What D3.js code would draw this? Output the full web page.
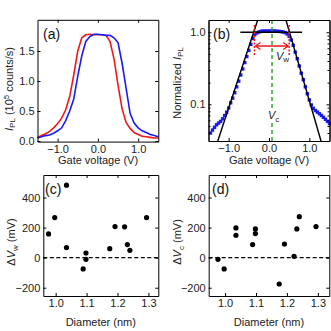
<!DOCTYPE html>
<html>
<head>
<meta charset="utf-8">
<script src="https://cdn.jsdelivr.net/npm/d3@7"></script>
<style>
  body { margin: 0; background: #fff; }
  svg { display: block; font-family: "Liberation Sans", Arial, sans-serif; }
  .tick text { font-size: 11px; fill: #222; }
  .axis path, .axis line { stroke: #000; stroke-width: 1; }
  .lbl { font-size: 11px; fill: #222; }
  .plab { font-size: 14px; fill: #111; }
</style>
</head>
<body>
<div id="chart"></div>
<script>
// (a) PL intensity vs gate voltage, two sweeps (10^5 counts/s)
var gateV  = [-1.5, -1.4, -1.3, -1.2, -1.1, -1.0, -0.9, -0.8, -0.7, -0.6, -0.5, -0.4, -0.3, -0.2, -0.1, 0.0,
              0.1, 0.2, 0.3, 0.4, 0.5, 0.6, 0.7, 0.8, 0.9, 1.0, 1.1, 1.2, 1.3, 1.4, 1.5];
var plRed  = [0.06, 0.09, 0.12, 0.16, 0.22, 0.29, 0.38, 0.52, 0.74, 1.10, 1.50, 1.72, 1.77, 1.78, 1.77, 1.77,
              1.77, 1.76, 1.66, 1.37, 0.93, 0.54, 0.31, 0.21, 0.14, 0.11, 0.08, 0.07, 0.06, 0.05, 0.05];
var plBlue = [0.05, 0.07, 0.09, 0.10, 0.13, 0.17, 0.22, 0.34, 0.50, 0.70, 1.08, 1.42, 1.66, 1.74, 1.78, 1.78,
              1.77, 1.76, 1.76, 1.72, 1.64, 1.30, 0.88, 0.46, 0.30, 0.22, 0.17, 0.14, 0.11, 0.09, 0.07];

// (b) normalized PL (log scale) with fitted slopes
var normV  = [-1.45, -1.40, -1.35, -1.30, -1.25, -1.20, -1.15, -1.10, -1.05, -1.00, -0.95, -0.90, -0.85, -0.80,
              -0.75, -0.70, -0.65, -0.60, -0.55, -0.50, -0.45, -0.40, -0.35, -0.30, -0.25, -0.20, -0.15, -0.10,
              -0.05, 0.00, 0.05, 0.10, 0.15, 0.20, 0.25, 0.30, 0.35, 0.40, 0.45, 0.50, 0.55, 0.60, 0.65, 0.70,
              0.75, 0.80, 0.85, 0.90, 0.95, 1.00, 1.05, 1.10, 1.15, 1.20, 1.25, 1.30, 1.35, 1.40, 1.45, 1.50];
var normPL = [0.040, 0.044, 0.048, 0.052, 0.055, 0.058, 0.063, 0.070, 0.078, 0.089, 0.105, 0.122, 0.145, 0.175,
              0.21, 0.255, 0.31, 0.38, 0.46, 0.56, 0.68, 0.82, 0.93, 0.98, 1.01, 1.03, 1.04, 1.04,
              1.04, 1.04, 1.04, 1.04, 1.04, 1.03, 1.03, 1.02, 1.01, 0.99, 0.95, 0.88, 0.78, 0.66, 0.53, 0.43,
              0.34, 0.27, 0.22, 0.175, 0.14, 0.115, 0.098, 0.088, 0.082, 0.078, 0.074, 0.070, 0.066, 0.062, 0.058, 0.054];
var fitLeftV = [-1.27, -0.28], fitLeftI = [0.031, 1.48];
var fitRightV = [0.42, 1.29], fitRightI = [1.48, 0.031];
var flatV = [-0.71, 0.82];
var vwEdges = [-0.36, 0.50];
var vwArrowI = 0.645;
var vwLineI = [1.26, 0.48];
var vc = 0.075;

// (c), (d) shifts vs tube diameter (mV)
var diameter = [0.977, 0.997, 1.035, 1.035, 1.089, 1.098, 1.098, 1.175, 1.192, 1.223, 1.232, 1.240, 1.294];
var deltaVw  = [158, 267, 482, 67, -75, 31, -11, 60, 207, 205, 87, 49, 267];
var deltaVc  = [-11, -75, 198, 149, 87, 191, 160, -175, 91, 9, 191, 273, 207];

var svg = d3.select("#chart").append("svg")
    .attr("width", 331)
    .attr("height", 331);

var fmt1 = d3.format(".1f");

// box with inward ticks on all four sides
function drawFrame(x, y, xTicks, yTicks, xFmt, yFmt) {
    var x0 = x.range()[0], x1 = x.range()[1];
    var yb = y.range()[0], yt = y.range()[1];
    svg.append("g").attr("class", "axis")
        .attr("transform", `translate(0,${yb})`)
        .call(d3.axisBottom(x).tickValues(xTicks).tickFormat(xFmt).tickSize(-3).tickSizeOuter(0).tickPadding(3.5));
    svg.append("g").attr("class", "axis")
        .attr("transform", `translate(0,${yt})`)
        .call(d3.axisTop(x).tickValues(xTicks).tickFormat("").tickSize(-3).tickSizeOuter(0));
    svg.append("g").attr("class", "axis")
        .attr("transform", `translate(${x0},0)`)
        .call(d3.axisLeft(y).tickValues(yTicks).tickFormat(yFmt).tickSize(-3).tickSizeOuter(0).tickPadding(3));
    svg.append("g").attr("class", "axis")
        .attr("transform", `translate(${x1},0)`)
        .call(d3.axisRight(y).tickValues(yTicks).tickFormat("").tickSize(-3).tickSizeOuter(0));
    svg.selectAll(".tick text").attr("font-family", null);
    svg.selectAll(".axis").attr("font-family", null).attr("font-size", null);
}

function xLabel(cx, text) {
    return svg.append("text").attr("class", "lbl")
        .attr("text-anchor", "middle").attr("x", cx).text(text);
}

function yLabel(bx, cy) {
    return svg.append("text").attr("class", "lbl")
        .attr("text-anchor", "middle")
        .attr("transform", `translate(${bx},${cy}) rotate(-90)`);
}

// ---------- (a) ----------
var xA = d3.scaleLinear().domain([-1.5, 1.5]).range([37.5, 158.3]);
var yA = d3.scaleLinear().domain([-0.01, 2.02]).range([141.6, 19.8]);

var lineA = d3.line().x((d, i) => xA(gateV[i])).y(d => yA(d));
svg.append("path").datum(plRed)
    .attr("d", lineA).attr("fill", "none").attr("stroke", "#f01818").attr("stroke-width", 1.6);
svg.append("path").datum(plBlue)
    .attr("d", lineA).attr("fill", "none").attr("stroke", "#1a1af5").attr("stroke-width", 1.6);

drawFrame(xA, yA, [-1, 0, 1], [0, 0.5, 1, 1.5], fmt1, fmt1);

svg.append("text").attr("class", "plab").attr("x", 43).attr("y", 38.5).text("(a)");
xLabel(98, "Gate voltage (V)").attr("y", 163.5);
var la = yLabel(12.5, 89);
la.append("tspan").attr("font-style", "italic").text("I");
la.append("tspan").attr("font-size", "8px").attr("dy", 2.5).text("PL");
la.append("tspan").attr("dy", -2.5).text(" (10");
la.append("tspan").attr("font-size", "8px").attr("dy", -4).text("5");
la.append("tspan").attr("dy", 4).text(" counts/s)");

// ---------- (b) ----------
var xB = d3.scaleLinear().domain([-1.5, 1.5]).range([208.5, 329.5]);
var yB = d3.scaleLog().domain([0.031, 1.48]).range([141, 20]);

svg.append("g").selectAll("rect")
    .data(normPL)
    .enter()
    .append("rect")
    .attr("x", (d, i) => xB(normV[i]) - 1.7)
    .attr("y", d => yB(d) - 1.7)
    .attr("width", 3.4)
    .attr("height", 3.4)
    .attr("fill", "#1a1af5");

var lineB = d3.line().x(d => xB(d[0])).y(d => yB(d[1]));
[[fitLeftV, fitLeftI], [fitRightV, fitRightI]].forEach(function(f) {
    svg.append("path")
        .datum(f[0].map((v, i) => [v, f[1][i]]))
        .attr("d", lineB).attr("fill", "none").attr("stroke", "#000").attr("stroke-width", 1.4);
});
svg.append("line")
    .attr("x1", xB(flatV[0])).attr("x2", xB(flatV[1]))
    .attr("y1", yB(1)).attr("y2", yB(1))
    .attr("stroke", "#000").attr("stroke-width", 1.4);

// V_w markers
vwEdges.forEach(function(v) {
    svg.append("line")
        .attr("x1", xB(v)).attr("x2", xB(v))
        .attr("y1", yB(vwLineI[0])).attr("y2", yB(vwLineI[1]))
        .attr("stroke", "#f01818").attr("stroke-width", 1.5).attr("stroke-dasharray", "2,1.5");
});
var ay = yB(vwArrowI), axl = xB(vwEdges[0]) + 1, axr = xB(vwEdges[1]) - 1;
svg.append("path")
    .attr("d", `M${axl},${ay}H${axr}M${axl + 5},${ay - 3.5}L${axl},${ay}L${axl + 5},${ay + 3.5}` +
               `M${axr - 5},${ay - 3.5}L${axr},${ay}L${axr - 5},${ay + 3.5}`)
    .attr("fill", "none").attr("stroke", "#f01818").attr("stroke-width", 1.3);
var vw = svg.append("text").attr("class", "lbl").attr("x", 276).attr("y", 59.5).attr("fill", "#f01818");
vw.append("tspan").attr("font-style", "italic").text("V");
vw.append("tspan").attr("font-size", "8px").attr("dy", 2.5).text("w");

// V_c line
svg.append("line")
    .attr("x1", xB(vc)).attr("x2", xB(vc))
    .attr("y1", yB.range()[1]).attr("y2", 108)
    .attr("stroke", "#22a022").attr("stroke-width", 1.4).attr("stroke-dasharray", "4,3");
svg.append("line")
    .attr("x1", xB(vc)).attr("x2", xB(vc))
    .attr("y1", 123).attr("y2", yB.range()[0])
    .attr("stroke", "#22a022").attr("stroke-width", 1.4).attr("stroke-dasharray", "4,3");
var vcl = svg.append("text").attr("class", "lbl").attr("x", xB(vc) - 4).attr("y", 119).attr("fill", "#22a022");
vcl.append("tspan").attr("font-style", "italic").text("V");
vcl.append("tspan").attr("font-size", "8px").attr("dy", 2.5).text("c");

drawFrame(xB, yB, [-1, 0, 1], [0.1, 1], fmt1, fmt1);
// log minor ticks
var minorB = [0.04, 0.05, 0.06, 0.07, 0.08, 0.09, 0.2, 0.3, 0.4, 0.5, 0.6, 0.7, 0.8, 0.9];
svg.append("g").attr("class", "axis").attr("transform", `translate(${xB.range()[0]},0)`)
    .call(d3.axisLeft(yB).tickValues(minorB).tickFormat("").tickSize(-2).tickSizeOuter(0));
svg.append("g").attr("class", "axis").attr("transform", `translate(${xB.range()[1]},0)`)
    .call(d3.axisRight(yB).tickValues(minorB).tickFormat("").tickSize(-2).tickSizeOuter(0));

svg.append("text").attr("class", "plab").attr("x", 213).attr("y", 38.5).text("(b)");
xLabel(269, "Gate voltage (V)").attr("y", 163.5);
var lb = yLabel(180.5, 83);
lb.append("tspan").text("Normalized ");
lb.append("tspan").attr("font-style", "italic").text("I");
lb.append("tspan").attr("font-size", "8px").attr("dy", 2.5).text("PL");

// ---------- (c) and (d) ----------
function scatterPanel(xr, xd, values, letter, sub, letterX, labelX) {
    var x = d3.scaleLinear().domain(xd).range(xr);
    var y = d3.scaleLinear().domain([-255, 550]).range([296, 175]);

    svg.append("line")
        .attr("x1", xr[0]).attr("x2", xr[1])
        .attr("y1", y(0)).attr("y2", y(0))
        .attr("stroke", "#000").attr("stroke-width", 1.4).attr("stroke-dasharray", "4,2.5");

    svg.append("g").selectAll("circle")
        .data(values)
        .enter()
        .append("circle")
        .attr("cx", (d, i) => x(diameter[i]))
        .attr("cy", d => y(d))
        .attr("r", 2.6)
        .attr("fill", "#000");

    drawFrame(x, y, [1.0, 1.1, 1.2, 1.3], [-200, 0, 200, 400], fmt1, d3.format("d"));

    svg.append("text").attr("class", "plab").attr("x", letterX).attr("y", 194).text(letter);
    xLabel((xr[0] + xr[1]) / 2, "Diameter (nm)").attr("y", 325.5);
    var l = yLabel(labelX, 242);
    l.append("tspan").text("\u0394");
    l.append("tspan").attr("font-style", "italic").text("V");
    l.append("tspan").attr("font-size", "8px").attr("dy", 2.5).text(sub);
    l.append("tspan").attr("dy", -2.5).text(" (mV)");
}

scatterPanel([43.3, 158.3], [0.96, 1.332], deltaVw, "(c)", "w", 45, 15);
scatterPanel([208.7, 329.3], [0.947, 1.337], deltaVc, "(d)", "c", 212, 181);
</script>
</body>
</html>
